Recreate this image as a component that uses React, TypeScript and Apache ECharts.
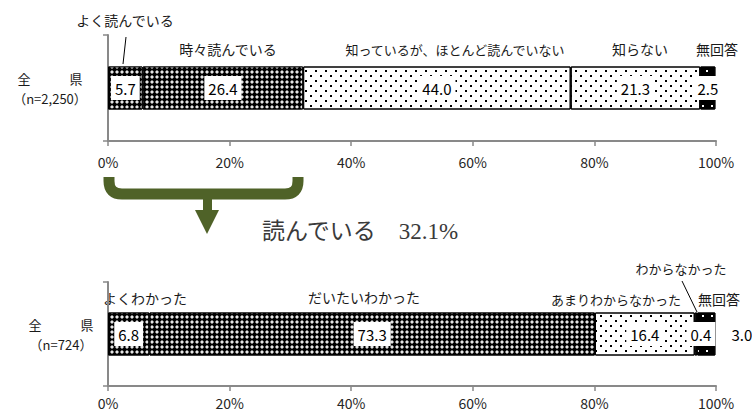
import React, { useEffect, useRef } from "react";
import * as echarts from "echarts";

// ---------- data ----------
const topCategory = ["全　　　県\n（n=2,250）"];
const bottomCategory = ["全　　　県\n（n=724）"];
const topNames = ["よく読んでいる", "時々読んでいる", "知っているが、ほとんど読んでいない", "知らない", "無回答"];
const topValues = [5.7, 26.4, 44.0, 21.3, 2.5];
const bottomNames = ["よくわかった", "だいたいわかった", "あまりわからなかった", "わからなかった", "無回答"];
const bottomValues = [6.8, 73.3, 16.4, 0.4, 3.0];
const xTickStep = 20;
const summaryLabel = "読んでいる";

// ---------- layout / styles ----------
const FONT = "'Noto Sans CJK JP', 'Noto Sans', sans-serif";
const topNamePos = [[125, 20], [228, 49], [455, 49], [640, 49], [717, 49]];
const bottomNamePos = [[145, 298], [364, 297], [616, 299], [681, 268], [719, 299]];

const checker = {
  color: "#000",
  decal: { symbol: "diamond", symbolSize: 1, color: "#e6e6e6", backgroundColor: "#000", dashArrayX: [4, 1], dashArrayY: [4, 1] },
};
const dots = {
  color: "#fff",
  decal: { symbol: "rect", symbolSize: 1, color: "#000", backgroundColor: "#fff", dashArrayX: [[1.5, 7.5], [0, 4.5, 1.5, 3]], dashArrayY: [1.5, 3] },
};
const blackDots = {
  color: "#000",
  decal: { symbol: "rect", symbolSize: 1, color: "#fff", backgroundColor: "#000", dashArrayX: [[1.5, 6.5], [0, 4, 1.5, 2.5]], dashArrayY: [1.5, 4.5] },
};
const patterns = [checker, checker, dots, dots, blackDots];

const baseLabel = {
  show: true,
  position: "inside",
  color: "#000",
  fontSize: 15,
  fontFamily: FONT,
  backgroundColor: "#fff",
  padding: [5, 4, 4, 4],
  formatter: (p: any) => Number(p.value).toFixed(1),
};

function buildSeries(names: string[], values: number[], idx: number, tweaks: Record<number, any>) {
  return names.map((name, i) => ({
    type: "bar",
    name,
    stack: "s" + idx,
    xAxisIndex: idx,
    yAxisIndex: idx,
    barWidth: 43,
    data: [values[i]],
    itemStyle: { ...patterns[i], borderColor: "#000", borderWidth: 1 },
    label: { ...baseLabel, ...(tweaks[i] || {}) },
    emphasis: { disabled: true },
  }));
}

const axisLineStyle = { color: "#898989", width: 2 };

function xAxis(gridIndex: number, margin: number) {
  return {
    type: "value",
    gridIndex,
    min: 0,
    max: 100,
    interval: xTickStep,
    axisLine: { show: true, lineStyle: axisLineStyle },
    axisTick: { show: true, length: 5, lineStyle: { color: "#898989", width: 1.5 } },
    splitLine: { show: false },
    axisLabel: { formatter: "{value}%", fontSize: 14, color: "#262626", margin, fontFamily: FONT },
  };
}

function yAxis(gridIndex: number, data: string[], margin: number) {
  return {
    type: "category",
    gridIndex,
    data,
    axisLine: { show: true, lineStyle: axisLineStyle },
    axisTick: { show: true, length: 5, lineStyle: { color: "#898989", width: 1.5 } },
    axisLabel: { align: "center", margin, fontSize: 13, lineHeight: 20, color: "#1a1a1a", fontFamily: FONT },
  };
}

function nameTexts(names: string[], pos: number[][], sizes: number[]) {
  return names.map((n, i) => ({
    type: "text",
    x: pos[i][0],
    y: pos[i][1],
    style: { text: n, fontSize: sizes[i], fontFamily: FONT, fill: "#1a1a1a", align: "center", verticalAlign: "middle" },
  }));
}

echarts.graphic.registerShape(
  "bracket",
  echarts.graphic.extendPath("M109,177 L109,181 Q109,194 122,194 L285,194 Q298,194 298,181 L298,177", {})
);

export default function App() {
  const ref = useRef<HTMLDivElement>(null);
  useEffect(() => {
    if (!ref.current) return;
    const chart = echarts.init(ref.current, null, { renderer: "svg" });
    const share = (topValues[0] + topValues[1]).toFixed(1);
    chart.setOption({
      animation: false,
      textStyle: { fontFamily: FONT },
      grid: [
        { left: 108, top: 35, width: 608, height: 106, containLabel: false },
        { left: 108, top: 282, width: 608, height: 104, containLabel: false },
      ],
      xAxis: [xAxis(0, 14), xAxis(1, 10)],
      yAxis: [yAxis(0, topCategory, 58), yAxis(1, bottomCategory, 47)],
      series: [
        ...buildSeries(topNames, topValues, 0, {}),
        ...buildSeries(bottomNames, bottomValues, 1, {
          3: { offset: [5, 0] },
          4: { position: "right", distance: 16, backgroundColor: "transparent", padding: 0 },
        }),
      ],
      graphic: [
        ...nameTexts(topNames, topNamePos, [14, 14, 13, 14, 14]),
        ...nameTexts(bottomNames, bottomNamePos, [14, 14, 13, 13, 14]),
        { type: "line", shape: { x1: 126, y1: 37, x2: 123, y2: 64 }, style: { stroke: "#000", lineWidth: 1 } },
        { type: "line", shape: { x1: 682, y1: 281, x2: 697, y2: 312 }, style: { stroke: "#000", lineWidth: 1 } },
        { type: "bracket", x: 0, y: 0, style: { fill: "none", stroke: "#4f6228", lineWidth: 11 } },
        { type: "rect", shape: { x: 203, y: 198, width: 9, height: 13 }, style: { fill: "#4f6228" } },
        { type: "polygon", shape: { points: [[195, 210], [219, 210], [207, 234]] }, style: { fill: "#4f6228" } },
        {
          type: "text",
          x: 262,
          y: 231,
          style: {
            text: summaryLabel + "　" + share + "%",
            fontSize: 23,
            fontFamily: "'Liberation Serif', 'Noto Sans CJK JP', serif",
            fill: "#3a3a3a",
            align: "left",
            verticalAlign: "middle",
          },
        },
      ],
    });
    return () => chart.dispose();
  }, []);
  return <div ref={ref} style={{ position: "absolute", left: 0, top: 0, width: 752, height: 416 }} />;
}
